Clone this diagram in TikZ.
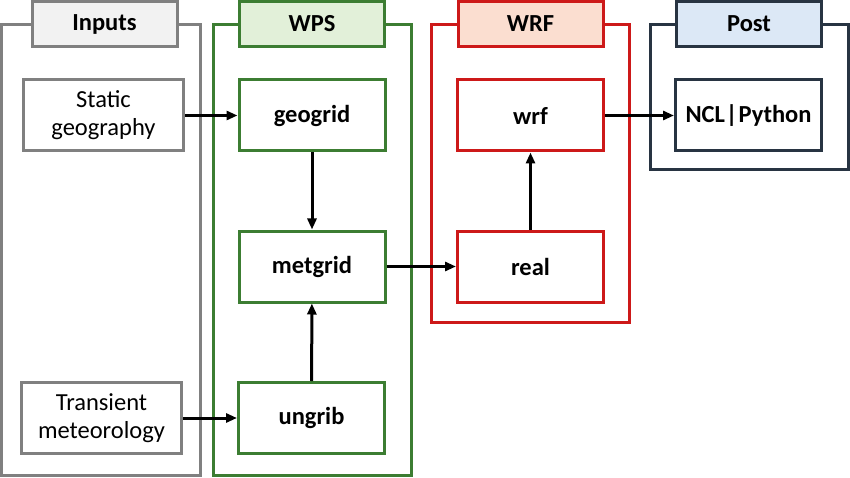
\documentclass[tikz,border=0pt]{standalone}
\usepackage{fontspec}
\setmainfont{Carlito}
\usetikzlibrary{arrows.meta}
\definecolor{cgray}{RGB}{128,128,128}
\definecolor{cgrayf}{RGB}{242,242,242}
\definecolor{cgreen}{RGB}{60,125,50}
\definecolor{cgreenf}{RGB}{226,240,217}
\definecolor{cred}{RGB}{205,25,25}
\definecolor{credf}{RGB}{251,222,208}
\definecolor{cdark}{RGB}{40,52,66}
\definecolor{cdarkf}{RGB}{220,232,246}
\tikzset{
  grp/.style={draw=#1, line width=3pt, fill=white},
  lbl/.style n args={2}{draw=#1, fill=#2, line width=3pt, minimum width=145pt, minimum height=45pt, font=\fontsize{24.5}{26}\selectfont\bfseries, inner sep=0pt},
  proc/.style={draw=#1, fill=white, line width=3pt, minimum width=146pt, minimum height=71pt, font=\fontsize{24.5}{26}\selectfont\bfseries, inner sep=0pt},
  inp/.style={draw=cgray, fill=white, line width=3pt, minimum width=160pt, minimum height=71pt, font=\fontsize{24.5}{28}\selectfont, align=center, inner sep=0pt},
  arr/.style={line width=3pt, -{Triangle[length=11pt,width=9pt]}}
}
\begin{document}
\begin{tikzpicture}[x=1pt,y=-1pt]
\useasboundingbox (0,0) rectangle (850,478);
% group frames
\draw[grp=cgray] (1.5,25) rectangle (200,475);
\draw[grp=cgreen] (213,25) rectangle (411,475);
\draw[grp=cred] (431,25) rectangle (629,322);
\draw[grp=cdark] (650,25) rectangle (848,170);
% group labels
\node[lbl={cgray}{cgrayf}] (Linputs) at (104.5,24) {Inputs};
\node[lbl={cgreen}{cgreenf}] (Lwps) at (312,24) {WPS};
\node[lbl={cred}{credf}] (Lwrf) at (530.5,24) {WRF};
\node[lbl={cdark}{cdarkf}] (Lpost) at (749,24) {Post};
% nodes
\node[inp] (static) at (103.5,115.5) {Static\\geography};
\node[inp] (trans) at (101.5,418) {Transient\\meteorology};
\node[proc=cgreen] (geogrid) at (312,115.5) {geogrid};
\node[proc=cgreen] (metgrid) at (312,266.5) {metgrid};
\node[proc=cgreen] (ungrib) at (311.5,418) {ungrib};
\node[proc=cred] (wrf) at (530.5,115.5) {wrf};
\node[proc=cred] (real) at (530.5,266.5) {real};
\node[proc=cdark] (post) at (748.5,115.5) {NCL{\kern1pt}|{\kern1pt}Python};
% connectors
\draw[arr] (static) -- (geogrid);
\draw[arr] (trans) -- (ungrib);
\draw[arr] (geogrid) -- (metgrid);
\draw[arr] (ungrib) -- (metgrid);
\draw[arr] (metgrid) -- (real);
\draw[arr] (real) -- (wrf);
\draw[arr] (wrf) -- (post);
\end{tikzpicture}
\end{document}
